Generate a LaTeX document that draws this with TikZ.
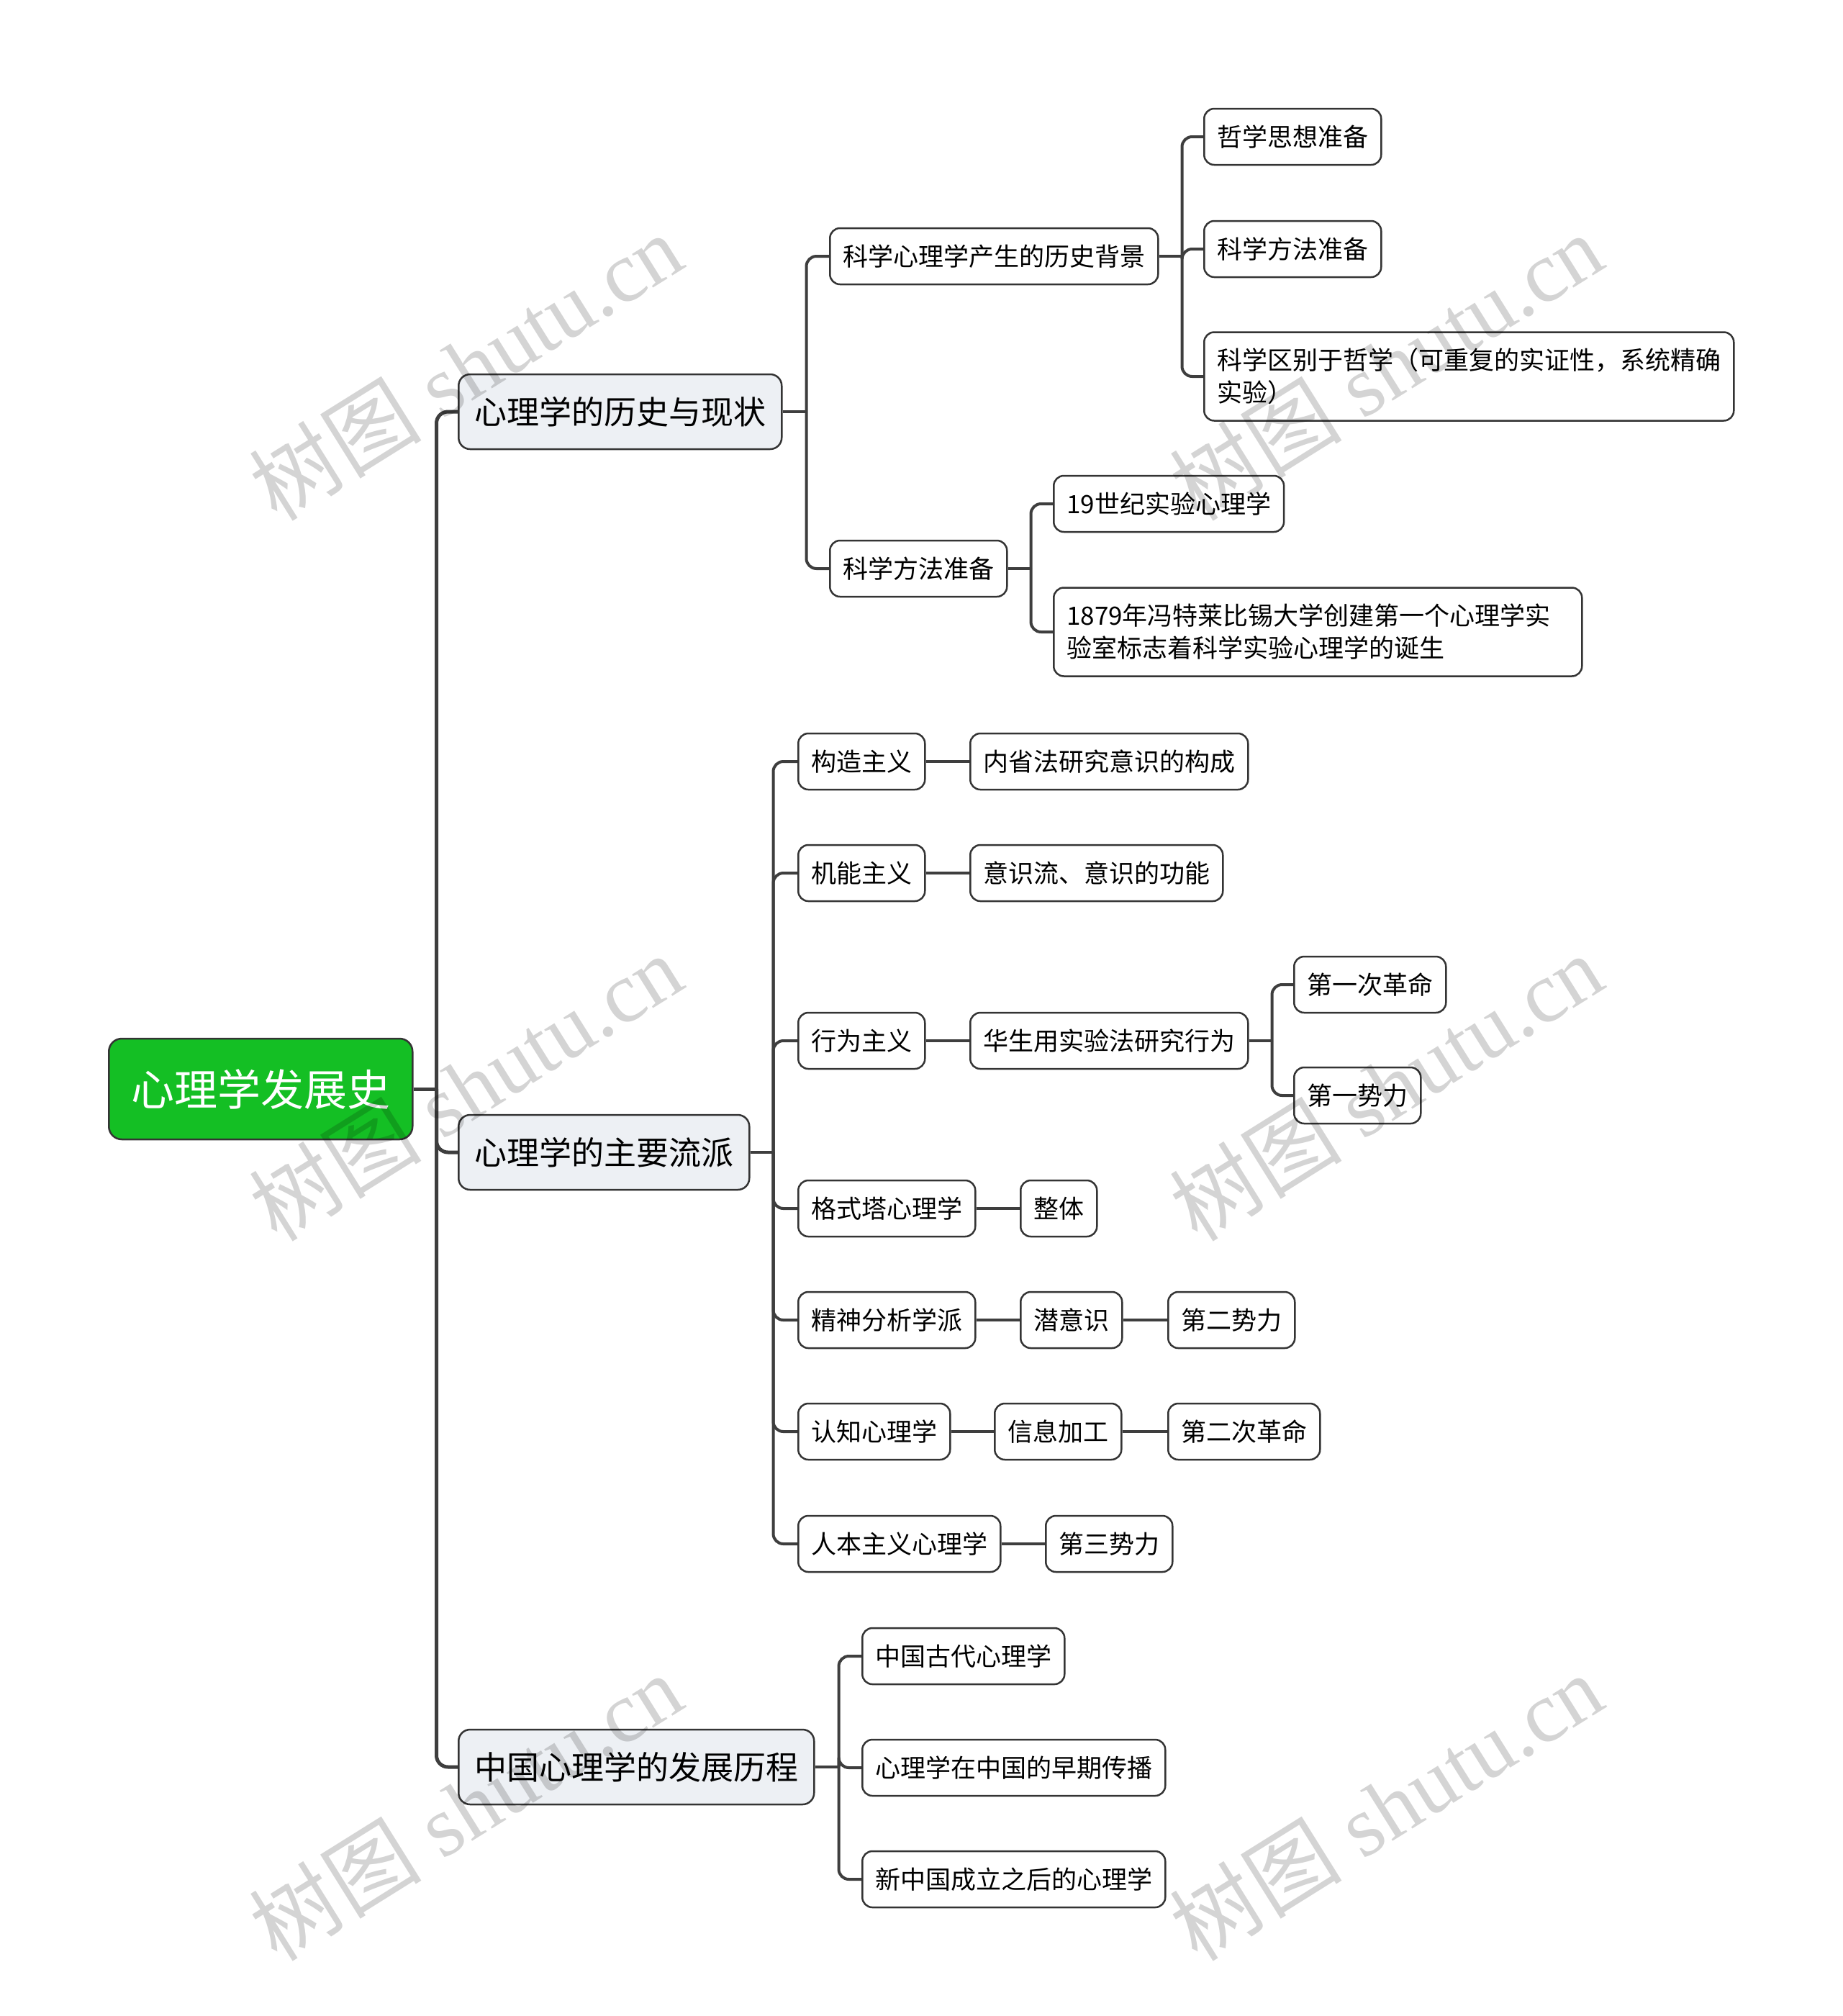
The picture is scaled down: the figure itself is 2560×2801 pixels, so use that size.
\documentclass[tikz,border=0pt]{standalone}
\usepackage{fontspec}
\setmainfont{Noto Sans CJK SC}
\newfontfamily\wmserif{Liberation Serif}
\newfontfamily\wmcjk{Noto Sans CJK SC}
\definecolor{linec}{RGB}{62,62,62}
\definecolor{boxline}{RGB}{52,52,52}
\definecolor{lonefill}{RGB}{237,240,244}
\definecolor{rootgreen}{RGB}{20,191,36}
\tikzset{
  box/.style={draw=boxline, line width=2.5pt, rounded corners=14pt, fill=white,
    inner xsep=18pt, inner ysep=0pt, minimum height=78pt,
    font=\fontsize{35}{45}\selectfont, anchor=west, align=left},
  twoline/.style={minimum height=123pt},
  lvlone/.style={box, fill=lonefill, minimum height=104pt, inner xsep=22pt,
    font=\fontsize{45}{54}\selectfont, rounded corners=16pt},
  rootbox/.style={box, fill=rootgreen, text=white, minimum height=140pt, inner xsep=31pt,
    font=\fontsize{60}{72}\selectfont, rounded corners=18pt},
  conn/.style={draw=linec, line width=4pt, rounded corners=14pt},
  connroot/.style={draw=linec, line width=5pt, rounded corners=16pt},
  wm/.style={text=black, text opacity=0.17, font=\fontsize{120}{120}\selectfont, rotate=32, inner sep=0pt}
}
\begin{document}
\begin{tikzpicture}[x=1pt,y=-1pt]
\fill[white] (0,0) rectangle (2560,2801);
\useasboundingbox (0,0) rectangle (2560,2801);

% root and level 1
\node[rootbox] (r) at (150,1513) {心理学发展史};
\node[lvlone] (a) at (636,572) {心理学的历史与现状};
\node[lvlone] (b) at (636,1601) {心理学的主要流派};
\node[lvlone] (c) at (636,2455) {中国心理学的发展历程};

% branch a
\node[box] (a1) at (1152,356) {科学心理学产生的历史背景};
\node[box] (a2) at (1152,790) {科学方法准备};
\node[box] (a11) at (1672,190) {哲学思想准备};
\node[box] (a12) at (1672,346) {科学方法准备};
\node[box,twoline] (a13) at (1672,523) {科学区别于哲学（可重复的实证性，系统精确\\实验）};
\node[box] (a21) at (1463,700) {19世纪实验心理学};
\node[box,twoline,text width=698pt] (a22) at (1463,878) {1879年冯特莱比锡大学创建第一个心理学实\\验室标志着科学实验心理学的诞生};

% branch b
\node[box] (b1) at (1108,1058) {构造主义};
\node[box] (b1a) at (1347,1058) {内省法研究意识的构成};
\node[box] (b2) at (1108,1213) {机能主义};
\node[box] (b2a) at (1347,1213) {意识流、意识的功能};
\node[box] (b3) at (1108,1446) {行为主义};
\node[box] (b3a) at (1347,1446) {华生用实验法研究行为};
\node[box] (b3a1) at (1797,1368) {第一次革命};
\node[box] (b3a2) at (1797,1522) {第一势力};
\node[box] (b4) at (1108,1679) {格式塔心理学};
\node[box] (b4a) at (1417,1679) {整体};
\node[box] (b5) at (1108,1834) {精神分析学派};
\node[box] (b5a) at (1417,1834) {潜意识};
\node[box] (b5b) at (1622,1834) {第二势力};
\node[box] (b6) at (1108,1989) {认知心理学};
\node[box] (b6a) at (1381,1989) {信息加工};
\node[box] (b6b) at (1622,1989) {第二次革命};
\node[box] (b7) at (1108,2145) {人本主义心理学};
\node[box] (b7a) at (1452,2145) {第三势力};

% branch c
\node[box] (c1) at (1197,2301) {中国古代心理学};
\node[box] (c2) at (1197,2456) {心理学在中国的早期传播};
\node[box] (c3) at (1197,2611) {新中国成立之后的心理学};

% junctions
\coordinate (jr) at ([xshift=32pt]r.east);
\coordinate (ja) at ([xshift=33pt]a.east);
\coordinate (ja1) at ([xshift=32pt]a1.east);
\coordinate (ja2) at ([xshift=32pt]a2.east);
\coordinate (jb) at ([xshift=32pt]b.east);
\coordinate (jb3a) at ([xshift=32pt]b3a.east);
\coordinate (jc) at ([xshift=33pt]c.east);

% connectors
\draw[connroot] (r.east) -- (jr);
\foreach \t in {a,b,c} \draw[connroot] (jr) |- (\t.west);

\draw[conn] (a.east) -- (ja);
\foreach \t in {a1,a2} \draw[conn] (ja) |- (\t.west);
\draw[conn] (a1.east) -- (ja1);
\foreach \t in {a11,a12,a13} \draw[conn] (ja1) |- (\t.west);
\draw[conn] (a2.east) -- (ja2);
\foreach \t in {a21,a22} \draw[conn] (ja2) |- (\t.west);

\draw[conn] (b.east) -- (jb);
\foreach \t in {b1,b2,b3,b4,b5,b6,b7} \draw[conn] (jb) |- (\t.west);
\draw[conn] (b1) -- (b1a);
\draw[conn] (b2) -- (b2a);
\draw[conn] (b3) -- (b3a);
\draw[conn] (b3a.east) -- (jb3a);
\foreach \t in {b3a1,b3a2} \draw[conn] (jb3a) |- (\t.west);
\draw[conn] (b4) -- (b4a);
\draw[conn] (b5) -- (b5a);
\draw[conn] (b5a) -- (b5b);
\draw[conn] (b6) -- (b6a);
\draw[conn] (b6a) -- (b6b);
\draw[conn] (b7) -- (b7a);

\draw[conn] (c.east) -- (jc);
\foreach \t in {c1,c2,c3} \draw[conn] (jc) |- (\t.west);

% watermarks
\foreach \wx in {647,1926}{
  \foreach \wy in {509,1510,2510}{
    \node[wm] (w-\wx-\wy) at (\wx,\wy) {\wmcjk 树图\hspace{0.25em}\wmserif shutu.cn};
  }
}
\end{tikzpicture}
\end{document}
